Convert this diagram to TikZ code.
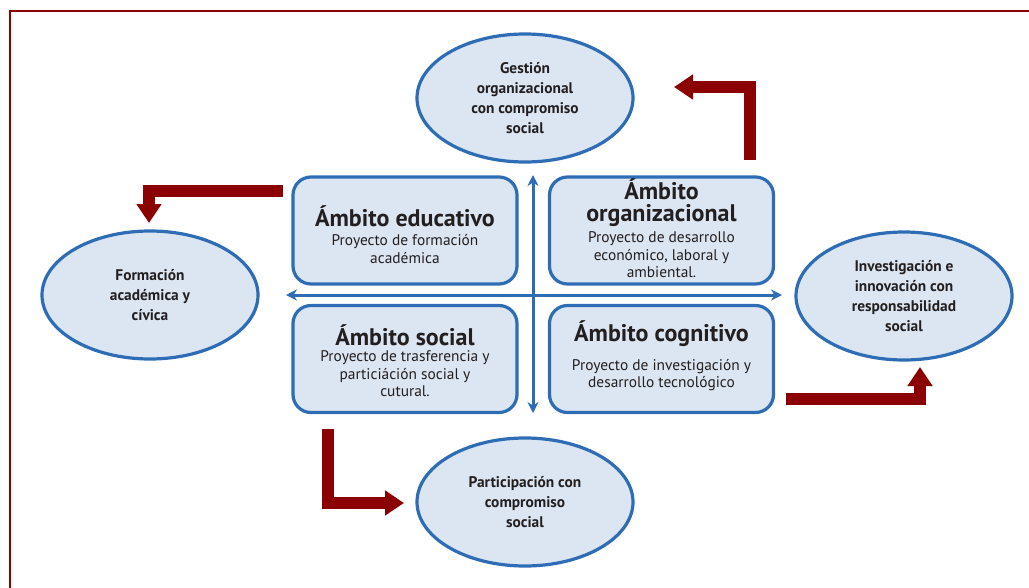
\documentclass[tikz,border=0pt]{standalone}
\usepackage{fontspec}
\setmainfont{PT Sans}
\usetikzlibrary{arrows.meta,shapes.geometric}
\definecolor{bord}{HTML}{2E6DB5}
\definecolor{fillb}{HTML}{DCE6F2}
\definecolor{dred}{HTML}{8B0000}
\definecolor{txt}{HTML}{231F20}
\tikzset{
  ell/.style={ellipse, draw=bord, fill=fillb, line width=3.2pt, minimum width=216pt, minimum height=128pt, inner sep=0pt, align=center, text=txt, font=\bfseries\fontsize{15.4}{20}\selectfont},
  ambox/.style={rounded corners=18pt, draw=bord, fill=fillb, line width=3.2pt, minimum width=224pt, minimum height=107pt, inner sep=0pt},
  ttl/.style={align=center, text=txt, inner sep=0pt, font=\bfseries\fontsize{24}{21}\selectfont},
  sub/.style={align=center, text=txt, inner sep=0pt, font=\fontsize{15.4}{17.5}\selectfont},
  redarrow/.style={draw=dred, line width=12pt, line join=miter, -{Triangle[width=24pt,length=19pt]}},
  bluearrow/.style={draw=bord, line width=3pt, {Stealth[width=11pt,length=11pt]}-{Stealth[width=11pt,length=11pt]}},
  frame/.style={draw=dred, line width=2.5pt}
}
\begin{document}
\begin{tikzpicture}[x=1pt,y=-1pt]
\useasboundingbox (0,0) rectangle (1029,587);
\draw[frame] (10,590) -- (10,11) -- (1032,11);

% ellipses
\node[ell] (eg) at (525,98) {Gestión\\organizacional\\con compromiso\\social};
\node[ell] (ef) at (150,295) {Formación\\académica y\\cívica};
\node[ell] (ei) at (904,296) {Investigación e\\innovación con\\responsabilidad\\social};
\node[ell] (ep) at (525,502) {Participación con\\compromiso\\social};

% boxes
\node[ambox] (b1) at (405,230.5) {};
\node[ambox] (b2) at (661.5,230.5) {};
\node[ambox] (b3) at (405,359) {};
\node[ambox] (b4) at (661.5,359) {};

\node[ttl] (t1) at (405,216) {Ámbito educativo};
\node[sub] (s1) at (405,249) {Proyecto de formación\\académica};
\node[ttl, anchor=base] (t2a) at (661.5,199) {Ámbito};
\node[ttl, anchor=base] (t2b) at (661.5,221) {organizacional};
\node[sub] (s2) at (661.5,255) {Proyecto de desarrollo\\económico, laboral y\\ambiental.};
\node[ttl] (t3) at (405,335) {Ámbito social};
\node[sub] (s3) at (405,374) {Proyecto de trasferencia y\\particiáción social y\\cutural.};
\node[ttl] (t4) at (661.5,334) {Ámbito cognitivo};
\node[sub] (s4) at (661.5,375) {Proyecto de investigación y\\desarrollo tecnológico};

% blue cross
\coordinate (hl) at (286,295);
\coordinate (hr) at (782,295);
\coordinate (vt) at (533,175);
\coordinate (vb) at (533,413);
\draw[bluearrow] (hl) -- (hr);
\draw[bluearrow] (vt) -- (vb);

% red arrows
\coordinate (r1s) at (750,160);
\coordinate (r1e) at (674,87);
\draw[redarrow] (r1s) |- (r1e);
\coordinate (r2s) at (283,190.5);
\coordinate (r2e) at (149,223);
\draw[redarrow] (r2s) -| (r2e);
\coordinate (r3s) at (328,429);
\coordinate (r3e) at (404,503);
\draw[redarrow] (r3s) |- (r3e);
\coordinate (r4s) at (786,399);
\coordinate (r4e) at (920,367);
\draw[redarrow] (r4s) -| (r4e);
\end{tikzpicture}
\end{document}
